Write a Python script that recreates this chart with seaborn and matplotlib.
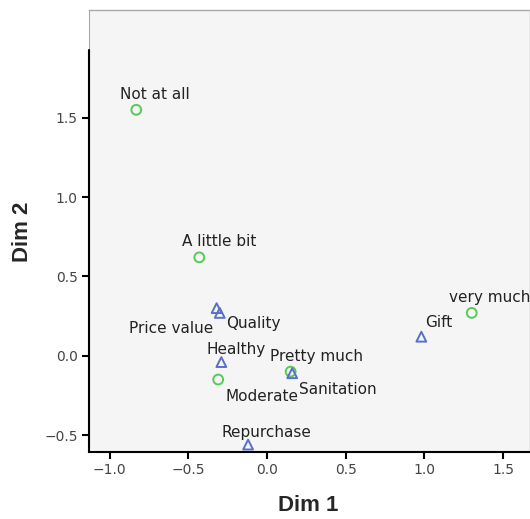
import pandas as pd
import numpy as np
import matplotlib
matplotlib.use("Agg")
import matplotlib.pyplot as plt
import seaborn as sns

sns.set_style("white")
plt.rcParams['font.family'] = ['DejaVu Sans']

#%% Data

level_labels = ["Not at all", "A little bit", "Moderate", "Pretty much", "very much"]
level_dim1 = [-0.83, -0.43, -0.31, 0.15, 1.30]
level_dim2 = [1.55, 0.62, -0.15, -0.10, 0.27]

item_labels = ["Price value", "Quality", "Healthy", "Sanitation", "Gift", "Repurchase"]
item_dim1 = [-0.32, -0.30, -0.29, 0.16, 0.98, -0.12]
item_dim2 = [0.30, 0.27, -0.04, -0.11, 0.12, -0.56]

df = pd.DataFrame({
    "label": level_labels + item_labels,
    "Dim 1": level_dim1 + item_dim1,
    "Dim 2": level_dim2 + item_dim2,
    "group": ["level"] * len(level_labels) + ["item"] * len(item_labels),
})

# label offsets in pixels (layout only)
offsets = {
    "Not at all": (19, 15), "A little bit": (20, 16), "Moderate": (44, -17),
    "Pretty much": (26, 15), "very much": (18, 15),
    "Price value": (-45, -20), "Quality": (34, -11), "Healthy": (15, 13),
    "Sanitation": (46, -16), "Gift": (17, 14), "Repurchase": (18, 12),
}

#%% Plot

fig = plt.figure(figsize = (5.30, 5.19), dpi = 100)
ax = fig.add_axes([0.168, 0.129, 0.832, 0.852])
ax.set_facecolor("#f5f5f5")

sns.scatterplot(data = df, x = "Dim 1", y = "Dim 2",
                hue = "group", style = "group",
                palette = {"level": "#55cc55", "item": "#5a70c8"},
                markers = {"level": "o", "item": "^"},
                s = 50, linewidth = 1.4,
                legend = False, ax = ax)

# hollow markers: edge color = hue color
for coll in ax.collections:
    fc = coll.get_facecolors()
    coll.set_edgecolors(fc)
    coll.set_facecolors("none")

for _, row in df.iterrows():
    dx, dy = offsets[row["label"]]
    ax.annotate(row["label"], (row["Dim 1"], row["Dim 2"]),
                xytext = (dx, dy), textcoords = "offset pixels",
                ha = "center", va = "center", fontsize = 11, color = "#222222")

ax.set_xlim(-1.13, 1.67)
ax.set_ylim(-0.607, 2.18)
ax.set_xticks([-1.0, -0.5, 0.0, 0.5, 1.0, 1.5])
ax.set_yticks([-0.5, 0.0, 0.5, 1.0, 1.5])
ax.set_xticklabels(["−1.0", "−0.5", "0.0", "0.5", "1.0", "1.5"])
ax.set_yticklabels(["−0.5", "0.0", "0.5", "1.0", "1.5"])
ax.tick_params(axis = "both", direction = "out", length = 5, width = 1.5,
               color = "black", labelsize = 10, labelcolor = "#444444", pad = 3,
               bottom = True, left = True)

for side in ["top", "right"]:
    ax.spines[side].set_color("#aaaaaa")
    ax.spines[side].set_linewidth(1)
ax.spines["left"].set_color("#aaaaaa")
ax.spines["bottom"].set_color("black")
ax.spines["bottom"].set_linewidth(1.5)

# black part of the left axis line
ax.plot([0, 0], [0, (1.924 + 0.607) / (2.18 + 0.607)], transform = ax.transAxes,
        color = "black", lw = 1.5, clip_on = False, zorder = 5)

ax.set_xlabel("Dim 1", fontsize = 16, fontweight = "bold", family = "Liberation Sans")
ax.set_ylabel("Dim 2", fontsize = 16, fontweight = "bold", family = "Liberation Sans")
ax.xaxis.label.set_va("center")
ax.yaxis.label.set_va("center")
ax.xaxis.set_label_coords(0.497, -0.122)
ax.yaxis.set_label_coords(-0.150, 0.498)

plt.savefig("out.png", dpi = 100)
